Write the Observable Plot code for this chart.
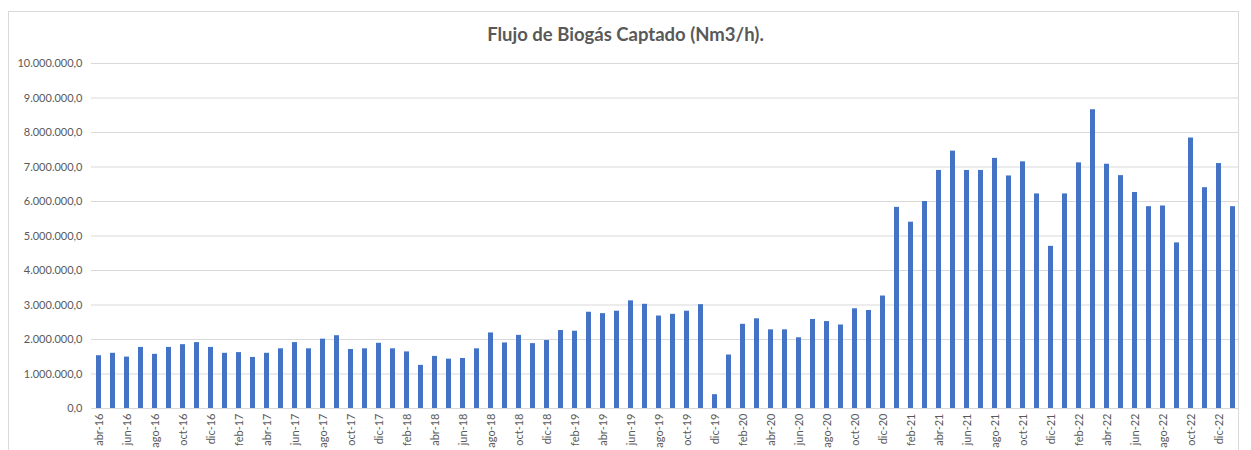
<!DOCTYPE html>
<html>
<head>
<meta charset="utf-8">
<script src="https://cdn.jsdelivr.net/npm/d3@7"></script>
<script src="https://cdn.jsdelivr.net/npm/@observablehq/plot@0.6"></script>
<style>
  html, body { margin: 0; padding: 0; background: #fff; }
  #wrap { position: relative; width: 1251px; height: 450px; overflow: hidden; }
  #frame { position: absolute; left: 8px; top: 11px; width: 1231px; height: 460px; border: 1px solid #d9d9d9; box-sizing: border-box; }
  #title { position: absolute; left: 0; width: 1251px; top: 23px; text-align: center;
           font-family: Lato, "Open Sans", sans-serif; font-weight: bold; font-size: 18.5px; color: #595959; }
  #chart { position: absolute; left: 0; top: 0; }
</style>
</head>
<body>
<div id="wrap">
  <div id="frame"></div>
  <div id="chart"></div>
  <div id="title">Flujo de Biogás Captado (Nm3/h).</div>
</div>
<script>
const months = [
  "abr-16","may-16","jun-16","jul-16","ago-16","sep-16","oct-16","nov-16","dic-16",
  "ene-17","feb-17","mar-17","abr-17","may-17","jun-17","jul-17","ago-17","sep-17","oct-17","nov-17","dic-17",
  "ene-18","feb-18","mar-18","abr-18","may-18","jun-18","jul-18","ago-18","sep-18","oct-18","nov-18","dic-18",
  "ene-19","feb-19","mar-19","abr-19","may-19","jun-19","jul-19","ago-19","sep-19","oct-19","nov-19","dic-19",
  "ene-20","feb-20","mar-20","abr-20","may-20","jun-20","jul-20","ago-20","sep-20","oct-20","nov-20","dic-20",
  "ene-21","feb-21","mar-21","abr-21","may-21","jun-21","jul-21","ago-21","sep-21","oct-21","nov-21","dic-21",
  "ene-22","feb-22","mar-22","abr-22","may-22","jun-22","jul-22","ago-22","sep-22","oct-22","nov-22","dic-22",
  "ene-23"
];

const flujo = [
  1530000, 1600000, 1490000, 1770000, 1570000, 1770000, 1850000, 1910000, 1770000,
  1600000, 1620000, 1480000, 1600000, 1730000, 1910000, 1730000, 2010000, 2110000, 1710000, 1730000, 1890000,
  1730000, 1640000, 1250000, 1510000, 1430000, 1450000, 1730000, 2190000, 1900000, 2120000, 1880000, 1970000,
  2260000, 2240000, 2790000, 2750000, 2820000, 3120000, 3020000, 2680000, 2730000, 2820000, 3010000, 400000,
  1550000, 2440000, 2600000, 2280000, 2280000, 2050000, 2580000, 2520000, 2420000, 2890000, 2840000, 3260000,
  5830000, 5400000, 6000000, 6900000, 7460000, 6900000, 6900000, 7250000, 6740000, 7150000, 6220000, 4700000,
  6220000, 7120000, 8660000, 7080000, 6750000, 6260000, 5850000, 5870000, 4800000, 7840000, 6400000, 7100000,
  5850000
];

const xTicks = [
  "abr-16","jun-16","ago-16","oct-16","dic-16","feb-17","abr-17","jun-17","ago-17","oct-17","dic-17",
  "feb-18","abr-18","jun-18","ago-18","oct-18","dic-18","feb-19","abr-19","jun-19","ago-19","oct-19","dic-19",
  "feb-20","abr-20","jun-20","ago-20","oct-20","dic-20","feb-21","abr-21","jun-21","ago-21","oct-21","dic-21",
  "feb-22","abr-22","jun-22","ago-22","oct-22","dic-22"
];

const yTicks = [0, 1000000, 2000000, 3000000, 4000000, 5000000, 6000000, 7000000, 8000000, 9000000, 10000000];

const data = months.map((m, i) => ({mes: m, valor: flujo[i]}));
const es = d3.formatLocale({decimal: ",", thousands: ".", grouping: [3], currency: ["", ""]});
const fmt = es.format(",.1f");

const chart = Plot.plot({
  width: 1251,
  height: 450,
  marginTop: 63,
  marginBottom: 42,
  marginLeft: 91,
  marginRight: 12,
  style: {fontFamily: "Lato, 'Open Sans', sans-serif", fontSize: "11px", color: "#595959", background: "transparent"},
  x: {domain: months, paddingInner: 0.66, paddingOuter: 0.33, label: null},
  y: {domain: [0, 10000000], label: null},
  marks: [
    Plot.gridY(yTicks, {stroke: "#d9d9d9", strokeOpacity: 1, strokeWidth: 1}),
    Plot.barY(data, {x: "mes", y: "valor", fill: "#4472C4"}),
    Plot.ruleY([0], {stroke: "#d9d9d9", strokeWidth: 1}),
    Plot.axisY(yTicks, {tickFormat: fmt, tickSize: 0, tickPadding: 9, label: null, fill: "#595959", fontSize: 11}),
    Plot.axisX(xTicks, {tickSize: 0, tickPadding: 5, tickRotate: -90, label: null, fill: "#595959", fontSize: 11})
  ]
});
document.getElementById("chart").appendChild(chart);
</script>
</body>
</html>
